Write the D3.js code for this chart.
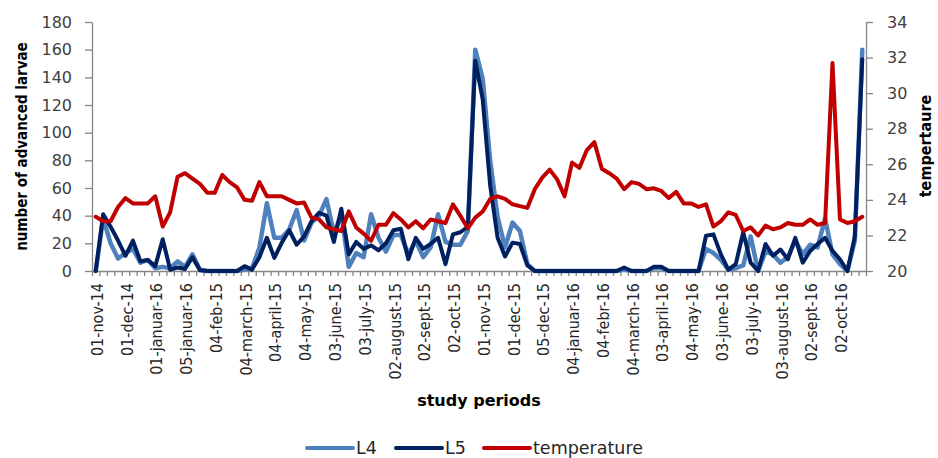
<!DOCTYPE html>
<html>
<head>
<meta charset="utf-8">
<script src="https://cdn.jsdelivr.net/npm/d3@7"></script>
<style>
  body { margin: 0; background: #fff; }
  svg { display: block; }
  .tick text { font-family: "DejaVu Sans", Verdana, sans-serif; font-size: 16px; fill: #404040; }
  .axis path, .axis line { stroke: #868686; stroke-width: 1.3px; }
  .cat-label { font-family: "DejaVu Sans Condensed", "DejaVu Sans", sans-serif; font-size: 16px; fill: #262626; }
  .axis-title { font-family: "DejaVu Sans Condensed", "DejaVu Sans", sans-serif; font-weight: bold; font-size: 15px; fill: #000; }
  .x-title { font-family: "DejaVu Sans", sans-serif; font-size: 16px; }
  .legend text { font-family: "DejaVu Sans", sans-serif; font-size: 17.5px; fill: #262626; }
</style>
</head>
<body>
<div id="chart"></div>
<script>
// magic numbers
var width = 938, height = 458;
var plot = {left: 92, right: 866, top: 22, bottom: 271};

// category labels, one every 4 weeks
var tickLabels = ["01-nov-14","01-dec-14","01-januar-16","05-januar-16","04-feb-15","04-march-15",
	"04-april-15","04-may-15","03-june-15","03-july-15","02-august-15","02-sept-15","02-oct-15",
	"01-nov-15","01-dec-15","05-dec-15","04-januar-16","04-febr-16","04-march-16","03-april-16",
	"04-may-16","03-june-16","03-july-16","03-august-16","02-sept-16","02-oct-16"];
var labelEvery = 4;

// weekly counts
var L4 = [0,38,20,9,13,16,6,8,2,3,2,7,3,12,1,0,0,0,0,0,
	1,2,17,49,24,24,30,44,22,35,40,52,27,41,3,13,10,41,24,14,
	26,26,12,22,10,17,41,21,19,19,29,160,139,80,39,17,35,29,5,0,
	0,0,0,0,0,0,0,0,0,0,0,1,0,0,0,2,2,0,0,0,
	0,0,16,13,8,1,2,4,25,0,14,12,6,10,22,12,19,17,38,12,
	5,0,22,160];

var L5 = [0,41,32,22,11,22,7,8,3.5,23,1,2.5,1.5,10,0.5,0,0,0,0,0,
	3.5,1,10,24,9.5,20.5,29.5,19,25,36,42,40,21,45,12,21,16,18.5,15,20,
	29.5,30.5,8.5,24,16,19.5,24,5,26.5,28,32,152,124,62,24,10.5,20.5,19.5,4,0,
	0,0,0,0,0,0,0,0,0,0,0,2.5,0,0,0,3,3,0,0,0,
	0,0,25.5,26.5,12,1,5,28,6,0,19.5,11,15.5,8.5,24,6,14.5,19.5,24,14.5,
	8.5,0,25,153];

var temperature = [23.05,22.8,22.8,23.6,24.1,23.8,23.8,23.8,24.2,22.5,23.3,25.3,25.5,25.2,24.9,24.4,24.4,25.4,25.0,24.7,
	24.0,23.95,25.0,24.2,24.2,24.2,24.0,23.8,23.85,23.0,22.9,22.45,22.35,22.25,23.35,22.45,22.1,21.7,22.6,22.6,
	23.25,22.9,22.45,22.8,22.4,22.9,22.8,22.7,23.75,23.1,22.4,23.0,23.35,24.05,24.2,24.05,23.75,23.65,23.55,24.6,
	25.25,25.7,25.15,24.2,26.1,25.8,26.8,27.25,25.75,25.5,25.2,24.6,25.0,24.9,24.6,24.65,24.5,24.1,24.45,23.8,
	23.8,23.6,23.75,22.5,22.8,23.3,23.15,22.25,22.45,22.0,22.55,22.35,22.45,22.7,22.6,22.6,22.9,22.6,22.7,31.7,
	22.9,22.7,22.8,23.05];

var series = [
	{name: "L4", values: L4, axis: "left", color: "#4F81BD", width: 4.5},
	{name: "L5", values: L5, axis: "left", color: "#002060", width: 4},
	{name: "temperature", values: temperature, axis: "right", color: "#C00000", width: 4}
];

var n = L4.length;

var svg = d3.select("#chart").append("svg")
		.attr("width", width)
		.attr("height", height);

// scales
var xScale = d3.scaleLinear()
		.domain([0, n])
		.range([plot.left, plot.right]);

var yLeft = d3.scaleLinear()
		.domain([0, 180])
		.range([plot.bottom, plot.top]);

var yRight = d3.scaleLinear()
		.domain([20, 34])
		.range([plot.bottom, plot.top]);

// axes
svg.append("g")
		.attr("class", "axis")
		.attr("transform", "translate(" + plot.left + ",0)")
		.call(d3.axisLeft(yLeft).tickValues(d3.range(0, 181, 20)).tickSize(7).tickPadding(13).tickSizeOuter(0));

svg.append("g")
		.attr("class", "axis")
		.attr("transform", "translate(" + plot.right + ",0)")
		.call(d3.axisRight(yRight).tickValues(d3.range(20, 35, 2)).tickSize(7).tickPadding(14).tickSizeOuter(0));

svg.append("g")
		.attr("class", "axis")
		.attr("transform", "translate(0," + plot.bottom + ")")
		.call(d3.axisBottom(xScale).tickValues(d3.range(0, n + 1)).tickFormat("").tickSize(5).tickSizeOuter(0));

// category labels
svg.selectAll(".cat-label")
		.data(tickLabels)
	.enter().append("text")
		.attr("class", "cat-label")
		.attr("transform", function(d, i){ return "translate(" + (xScale(i * labelEvery + 0.5) + 1.5) + "," + (plot.bottom + 12) + ") rotate(-90)"; })
		.attr("text-anchor", "end")
		.attr("dy", "0.35em")
		.text(function(d){ return d; });

// lines
series.forEach(function(s){
	var yS = s.axis == "left" ? yLeft : yRight;
	var line = d3.line()
			.x(function(d, i){ return xScale(i + 0.5); })
			.y(function(d){ return yS(d); });

	svg.append("path")
			.datum(s.values)
			.attr("fill", "none")
			.attr("stroke", s.color)
			.attr("stroke-width", s.width)
			.attr("stroke-linejoin", "round")
			.attr("stroke-linecap", "round")
			.attr("d", line);
});

// axis titles
svg.append("text")
		.attr("class", "axis-title")
		.attr("transform", "translate(27," + ((plot.top + plot.bottom) / 2) + ") rotate(-90)")
		.attr("text-anchor", "middle")
		.text("number of advanced larvae");

svg.append("text")
		.attr("class", "axis-title")
		.attr("transform", "translate(931," + (plot.top + 124) + ") rotate(-90)")
		.attr("text-anchor", "middle")
		.style("font-size", "16px")
		.text("tempertaure");

svg.append("text")
		.attr("class", "axis-title x-title")
		.attr("x", 479)
		.attr("y", 406)
		.attr("text-anchor", "middle")
		.text("study periods");

// legend
var legendX = [307, 396, 484];
var legend = svg.append("g").attr("class", "legend");
series.forEach(function(s, i){
	var g = legend.append("g").attr("transform", "translate(" + legendX[i] + ",448)");
	g.append("line")
			.attr("x1", 0).attr("x2", 46)
			.attr("stroke", s.color)
			.attr("stroke-width", 4)
			.attr("stroke-linecap", "round");
	g.append("text")
			.attr("x", 49)
			.attr("dy", "0.35em")
			.text(s.name);
});
</script>
</body>
</html>
